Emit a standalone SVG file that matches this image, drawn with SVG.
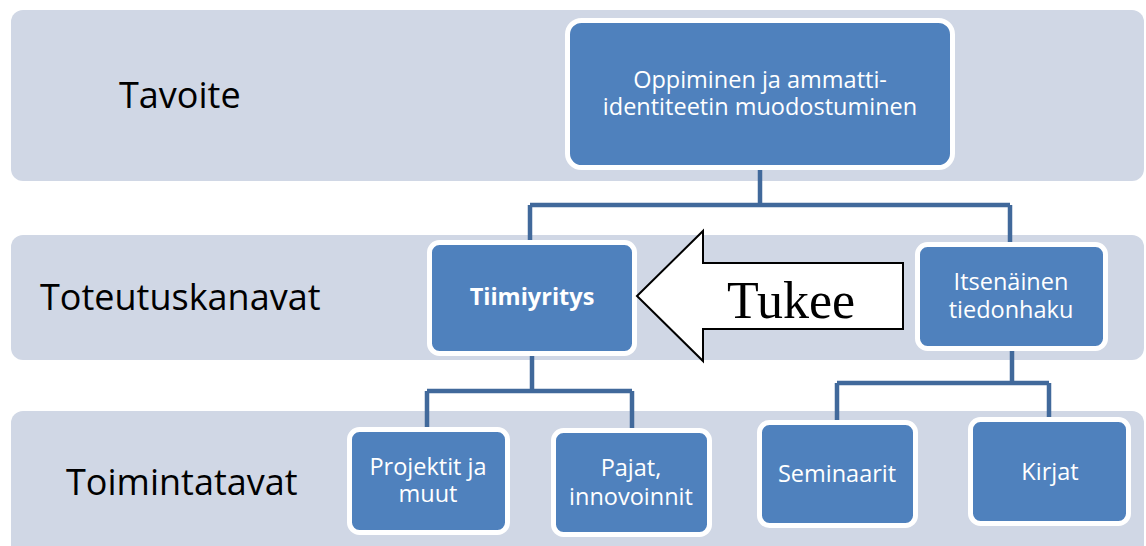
<svg xmlns="http://www.w3.org/2000/svg" width="1146" height="546" viewBox="0 0 1146 546">
<style>
.band{fill:#D0D7E5}
.node{fill:#4F81BD;stroke:#FFFFFF;stroke-width:5}
.lbl{font-family:"Open Sans","Liberation Sans",sans-serif;fill:#000000;font-size:36px}
.nt{font-family:"Open Sans","Liberation Sans",sans-serif;fill:#FFFFFF;font-size:23.5px;text-anchor:middle}
.conn{fill:none;stroke:#41699B;stroke-width:4.5;stroke-linejoin:round}
</style>
<rect width="1146" height="546" fill="#FFFFFF"/>
<g id="bands">
<rect class="band" x="11" y="10" width="1133" height="171" rx="12"/>
<rect class="band" x="11" y="235" width="1133" height="125" rx="12"/>
<rect class="band" x="11" y="411" width="1133" height="150" rx="12"/>
<text class="lbl" x="119" y="108">Tavoite</text>
<text class="lbl" x="40" y="310">Toteutuskanavat</text>
<text class="lbl" x="66" y="495">Toimintatavat</text>
</g>
<g id="connectors">
<path class="conn" d="M760,168 V205 M530,205 H1010 M530,205 V242 M1010,205 V245"/>
<path class="conn" d="M532,354 V391 M427,391 H632 M427,391 V430 M632,391 V431"/>
<path class="conn" d="M1012,349 V383 M837,383 H1049 M837,383 V423 M1049,383 V420"/>
</g>
<g id="n-top">
<rect class="node" x="567.5" y="20.5" width="385" height="147" rx="14"/>
<text class="nt" x="760" y="88" font-size="25">Oppiminen ja ammatti-</text>
<text class="nt" x="760" y="115" font-size="25">identiteetin muodostuminen</text>
</g>
<g id="n-tiimi">
<rect class="node" x="429.5" y="242.5" width="205" height="111" rx="10"/>
<text class="nt" x="532" y="305" font-weight="bold" font-size="19.5">Tiimiyritys</text>
</g>
<g id="n-itse">
<rect class="node" x="917.5" y="244.5" width="188" height="104" rx="10"/>
<text class="nt" x="1011" y="290" font-size="20.5">Itsenäinen</text>
<text class="nt" x="1011" y="318" font-size="20.5">tiedonhaku</text>
</g>
<g id="n-proj">
<rect class="node" x="349.5" y="429.5" width="158" height="103" rx="10"/>
<text class="nt" x="428" y="475">Projektit ja</text>
<text class="nt" x="428" y="502">muut</text>
</g>
<g id="n-pajat">
<rect class="node" x="553.5" y="430.5" width="156" height="104" rx="10"/>
<text class="nt" x="631" y="476">Pajat,</text>
<text class="nt" x="631" y="505">innovoinnit</text>
</g>
<g id="n-semi">
<rect class="node" x="759.5" y="422.5" width="156" height="103" rx="10"/>
<text class="nt" x="837" y="482">Seminaarit</text>
</g>
<g id="n-kirjat">
<rect class="node" x="970.5" y="419.5" width="158" height="104" rx="10"/>
<text class="nt" x="1050" y="480">Kirjat</text>
</g>
<g id="arrow">
<path d="M637,296 L703,231 V263 H903 V329 H703 V361 Z" fill="#FFFFFF" stroke="#000000" stroke-width="2" stroke-linejoin="miter"/>
<text x="727" y="318" font-family="'Liberation Serif',serif" font-size="52" fill="#000000">Tukee</text>
</g>
</svg>
